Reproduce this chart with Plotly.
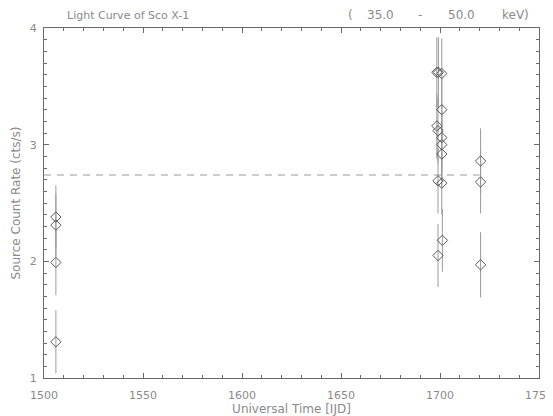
import plotly.graph_objects as go

# Data (IJD, count rate, error)
times = [1506.0, 1506.0, 1506.0, 1506.0,
         1698.4, 1699.2, 1700.9, 1700.9, 1698.4, 1699.0, 1700.9, 1700.9, 1700.9,
         1699.0, 1700.9, 1701.2, 1699.0,
         1720.5, 1720.5, 1720.5]
rates = [2.38, 2.31, 1.99, 1.31,
         3.62, 3.62, 3.61, 3.30, 3.16, 3.12, 3.06, 3.00, 2.92,
         2.69, 2.67, 2.18, 2.05,
         2.86, 2.68, 1.97]
errors = [0.27, 0.27, 0.28, 0.27,
          0.30, 0.30, 0.30, 0.28, 0.28, 0.28, 0.28, 0.28, 0.28,
          0.28, 0.27, 0.27, 0.27,
          0.28, 0.27, 0.28]
mean_rate = 2.74
mean_span = [1500, 1720]

title_left = "Light Curve of Sco X-1"
# energy band title pieces and their horizontal centres (paper fraction)
title_right_parts = ["(", "35.0", "-", "50.0", "keV)"]
title_right_pos = [0.620, 0.679, 0.760, 0.844, 0.952]
x_title = "Universal Time [IJD]"
y_title = "Source Count Rate (cts/s)"

txt = "#8a8a8a"
axc = "#6a6a6a"
font_fam = "DejaVu Sans"

fig = go.Figure()
fig.add_trace(go.Scatter(
    x=mean_span, y=[mean_rate, mean_rate], mode="lines",
    line=dict(color="#9a9a9a", width=1, dash="7px,6px"),
    showlegend=False, hoverinfo="skip"))
fig.add_trace(go.Scatter(
    x=times, y=rates, mode="markers",
    marker=dict(symbol="diamond-open", size=8, color="#5a5a5a",
                line=dict(width=1, color="#5a5a5a")),
    error_y=dict(type="data", array=errors, color="#9a9a9a", thickness=1, width=0),
    showlegend=False))

axis_common = dict(
    showgrid=False, zeroline=False, showline=True, linecolor=axc, linewidth=1,
    mirror="allticks", ticks="inside", ticklen=5, tickcolor=axc, tickwidth=1,
    tickfont=dict(family=font_fam, size=11, color=txt), automargin=False,
)
fig.update_xaxes(range=[1500, 1750], dtick=50, tick0=1500,
                 minor=dict(dtick=10, ticks="inside", ticklen=3, tickcolor=axc),
                 ticklabelstandoff=7,
                 title=dict(text=x_title, font=dict(family=font_fam, size=12, color=txt), standoff=1),
                 **axis_common)
fig.update_yaxes(range=[1, 4], dtick=1, tick0=1,
                 minor=dict(dtick=0.1, ticks="inside", ticklen=3, tickcolor=axc),
                 ticklabelstandoff=4,
                 title=dict(text=y_title, font=dict(family=font_fam, size=12, color=txt), standoff=6),
                 **axis_common)

fig.add_annotation(text=title_left, xref="paper", yref="paper", x=0.042, y=1.0,
                   yshift=4, xanchor="left", yanchor="bottom", showarrow=False,
                   font=dict(family=font_fam, size=11, color=txt))
for part, xp in zip(title_right_parts, title_right_pos):
    fig.add_annotation(text=part, xref="paper", yref="paper", x=xp, y=1.0,
                       yshift=4, xanchor="center", yanchor="bottom", showarrow=False,
                       font=dict(family=font_fam, size=12, color=txt))

fig.update_layout(
    width=553, height=408,
    margin=dict(l=36, r=22, t=20, b=38),
    paper_bgcolor="white", plot_bgcolor="white",
)
fig.write_html("out.html")
